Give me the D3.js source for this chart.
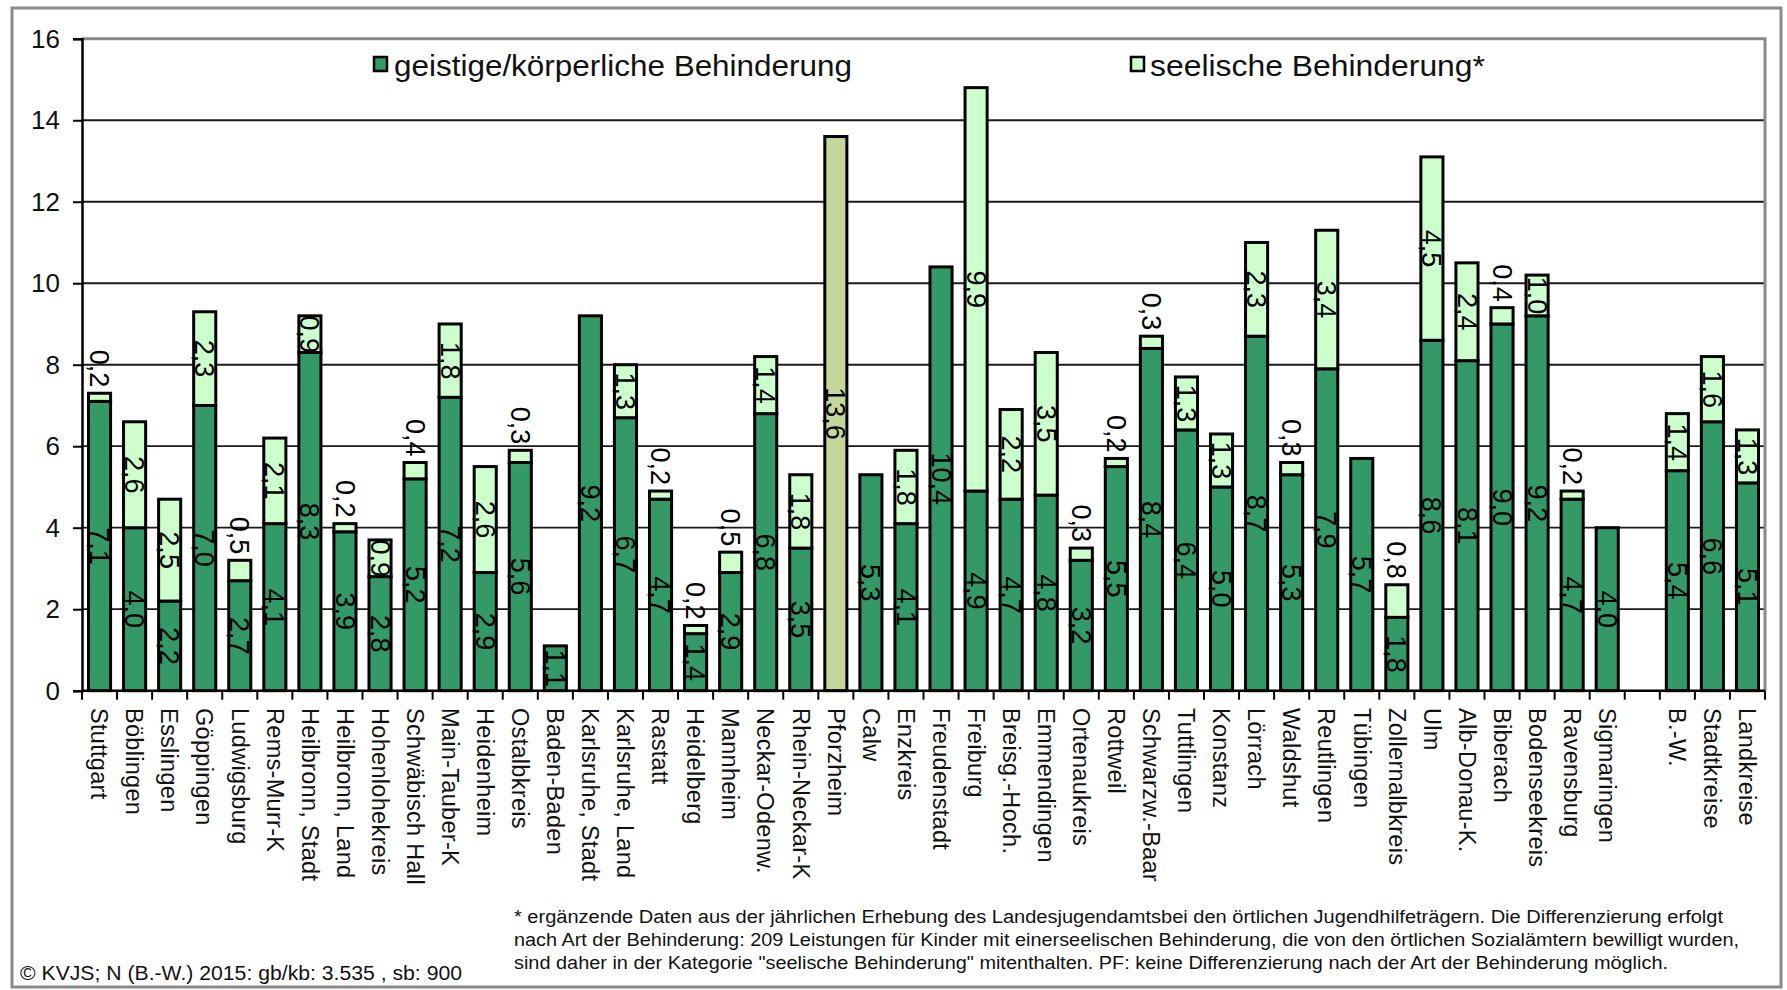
<!DOCTYPE html>
<html>
<head>
<meta charset="utf-8">
<script src="https://cdn.jsdelivr.net/npm/d3@7"></script>
<style>
  html, body { margin: 0; padding: 0; background: #fff; }
  svg { display: block; font-family: "Liberation Sans", Arial, sans-serif; }
</style>
</head>
<body>
<svg id="chart" width="1787" height="990"></svg>
<script>
// ---- data ----
const categories = ["Stuttgart","Böblingen","Esslingen","Göppingen","Ludwigsburg","Rems-Murr-K","Heilbronn, Stadt","Heilbronn, Land","Hohenlohekreis","Schwäbisch Hall","Main-Tauber-K","Heidenheim","Ostalbkreis","Baden-Baden","Karlsruhe, Stadt","Karlsruhe, Land","Rastatt","Heidelberg","Mannheim","Neckar-Odenw.","Rhein-Neckar-K","Pforzheim","Calw","Enzkreis","Freudenstadt","Freiburg","Breisg.-Hoch.","Emmendingen","Ortenaukreis","Rottweil","Schwarzw.-Baar","Tuttlingen","Konstanz","Lörrach","Waldshut","Reutlingen","Tübingen","Zollernalbkreis","Ulm","Alb-Donau-K.","Biberach","Bodenseekreis","Ravensburg","Sigmaringen"," ","B.-W.","Stadtkreise","Landkreise"];
const geistigKoerperlich = [7.1,4.0,2.2,7.0,2.7,4.1,8.3,3.9,2.8,5.2,7.2,2.9,5.6,1.1,9.2,6.7,4.7,1.4,2.9,6.8,3.5,0,5.3,4.1,10.4,4.9,4.7,4.8,3.2,5.5,8.4,6.4,5.0,8.7,5.3,7.9,5.7,1.8,8.6,8.1,9.0,9.2,4.7,4.0,0,5.4,6.6,5.1];
const seelisch = [0.2,2.6,2.5,2.3,0.5,2.1,0.9,0.2,0.9,0.4,1.8,2.6,0.3,0,0,1.3,0.2,0.2,0.5,1.4,1.8,0,0,1.8,0,9.9,2.2,3.5,0.3,0.2,0.3,1.3,1.3,2.3,0.3,3.4,0,0.8,4.5,2.4,0.4,1.0,0.2,0,0,1.4,1.6,1.3];
const ohneDifferenzierung = [0,0,0,0,0,0,0,0,0,0,0,0,0,0,0,0,0,0,0,0,0,13.6,0,0,0,0,0,0,0,0,0,0,0,0,0,0,0,0,0,0,0,0,0,0,0,0,0,0];
const yTicks = [0,2,4,6,8,10,12,14,16];
const legendLabels = ["geistige/körperliche Behinderung","seelische Behinderung*"];
const footnoteLines = [
  "* ergänzende Daten aus der jährlichen Erhebung  des  Landesjugendamtsbei den örtlichen Jugendhilfeträgern. Die Differenzierung erfolgt",
  "nach Art der Behinderung: 209 Leistungen für Kinder mit einerseelischen Behinderung, die von den örtlichen Sozialämtern bewilligt wurden,",
  "sind daher in der Kategorie \"seelische Behinderung\" mitenthalten. PF: keine Differenzierung nach der Art der Behinderung möglich."
];
const sourceText = "© KVJS; N (B.-W.) 2015: gb/kb: 3.535 , sb: 900";

// ---- layout ----
const colors = { geistig: "#339966", seelisch: "#ccffcc", ohne: "#c4d79b" };
const svg = d3.select("#chart");
const plotL = 82, plotR = 1765, plotT = 38.75, plotB = 690.7;

// outer frame
svg.append("rect").attr("x", 12).attr("y", 8).attr("width", 1769).attr("height", 979)
  .attr("fill", "#fff").attr("stroke", "#8a8a8a").attr("stroke-width", 3);

const x = d3.scaleBand().domain(categories).range([plotL, plotR]).paddingInner(0.37).paddingOuter(0.185);
const y = d3.scaleLinear().domain([0, 16]).range([plotB, plotT]);

// gridlines
svg.append("g").selectAll("line").data(yTicks.filter(d => d > 0 && d < 16)).join("line")
  .attr("x1", plotL).attr("x2", plotR).attr("y1", d => y(d)).attr("y2", d => y(d))
  .attr("stroke", "#1a1a1a").attr("stroke-width", 1.8);

// plot-area border (top & right)
svg.append("path")
  .attr("d", `M${plotL},${y(16)}H${plotR}V${plotB}`)
  .attr("fill", "none").attr("stroke", "#8a8a8a").attr("stroke-width", 3);

// stacked bars
const rows = categories.map((c, i) => ({ cat: c, geistig: geistigKoerperlich[i], seelisch: seelisch[i], ohne: ohneDifferenzierung[i] }));
const keys = ["geistig", "seelisch", "ohne"];
const series = d3.stack().keys(keys)(rows);

const barG = svg.append("g");
series.forEach(s => {
  barG.append("g").selectAll("rect").data(s.filter(d => d[1] - d[0] > 0)).join("rect")
    .attr("x", d => x(d.data.cat))
    .attr("width", x.bandwidth())
    .attr("y", d => y(d[1]))
    .attr("height", d => y(d[0]) - y(d[1]))
    .attr("fill", colors[s.key])
    .attr("stroke", "#000").attr("stroke-width", 3);
});

// axes
const yAxis = svg.append("g").attr("transform", `translate(${plotL},0)`)
  .call(d3.axisLeft(y).tickValues(yTicks).tickSize(9).tickPadding(13).tickFormat(d3.format("d")));
yAxis.select(".domain").attr("stroke", "#000").attr("stroke-width", 2.5);
yAxis.selectAll(".tick line").attr("stroke", "#000").attr("stroke-width", 2);
yAxis.selectAll(".tick text").attr("font-size", 26).attr("fill", "#111")
  .attr("font-family", "Liberation Sans, Arial, sans-serif");

// x axis line with boundary ticks
svg.append("line").attr("x1", plotL).attr("x2", plotR).attr("y1", plotB).attr("y2", plotB)
  .attr("stroke", "#000").attr("stroke-width", 2.5);
svg.append("g").selectAll("line").data(categories.concat(["__end"])).join("line")
  .attr("x1", (d, i) => plotL + i * x.step()).attr("x2", (d, i) => plotL + i * x.step())
  .attr("y1", plotB).attr("y2", plotB + 9)
  .attr("stroke", "#000").attr("stroke-width", 2);

// category labels
svg.append("g").selectAll("text").data(categories).join("text")
  .attr("transform", d => `translate(${x(d) + x.bandwidth() / 2},708) rotate(90)`)
  .attr("dy", "0.35em").attr("text-anchor", "start")
  .attr("font-size", 23.5).attr("fill", "#111").attr("letter-spacing", 0.3)
  .text(d => d.trim());

// value labels
const fmt = v => d3.format(".1f")(v).replace(".", ",");
const labelG = svg.append("g");
series.forEach(s => {
  s.forEach(d => {
    const v = Math.round((d[1] - d[0]) * 10) / 10;
    if (!(v > 0)) return;
    const cx = x(d.data.cat) + x.bandwidth() / 2;
    let t;
    if (v >= 0.9) {
      t = labelG.append("text")
        .attr("transform", `translate(${cx},${y((d[0] + d[1]) / 2)}) rotate(90)`)
        .attr("text-anchor", "middle");
    } else {
      t = labelG.append("text")
        .attr("transform", `translate(${cx},${y(d[1]) - 6}) rotate(90)`)
        .attr("text-anchor", "end");
    }
    t.attr("dy", "0.35em").attr("font-size", 27).attr("fill", "#000").text(fmt(v));
  });
});

// legend
const legendPos = [{ x: 374, tx: 394, len: 458, key: "geistig" }, { x: 1131, tx: 1150, len: 335, key: "seelisch" }];
legendPos.forEach((p, i) => {
  svg.append("rect").attr("x", p.x).attr("y", 57).attr("width", 13).attr("height", 14)
    .attr("fill", colors[p.key]).attr("stroke", "#000").attr("stroke-width", 2.5);
  svg.append("text").attr("x", p.tx).attr("y", 76).attr("font-size", 30).attr("fill", "#111")
    .attr("textLength", p.len).attr("lengthAdjust", "spacingAndGlyphs").text(legendLabels[i]);
});

// footnotes
const fnY = [923, 946, 969], fnLen = [1209, 1225, 1154];
footnoteLines.forEach((t, i) => {
  svg.append("text").attr("x", 514).attr("y", fnY[i]).attr("font-size", 18).attr("fill", "#111")
    .attr("textLength", fnLen[i]).attr("lengthAdjust", "spacingAndGlyphs").text(t);
});
svg.append("text").attr("x", 20).attr("y", 980).attr("font-size", 20).attr("fill", "#111")
  .attr("textLength", 442).attr("lengthAdjust", "spacingAndGlyphs").text(sourceText);
</script>
</body>
</html>
